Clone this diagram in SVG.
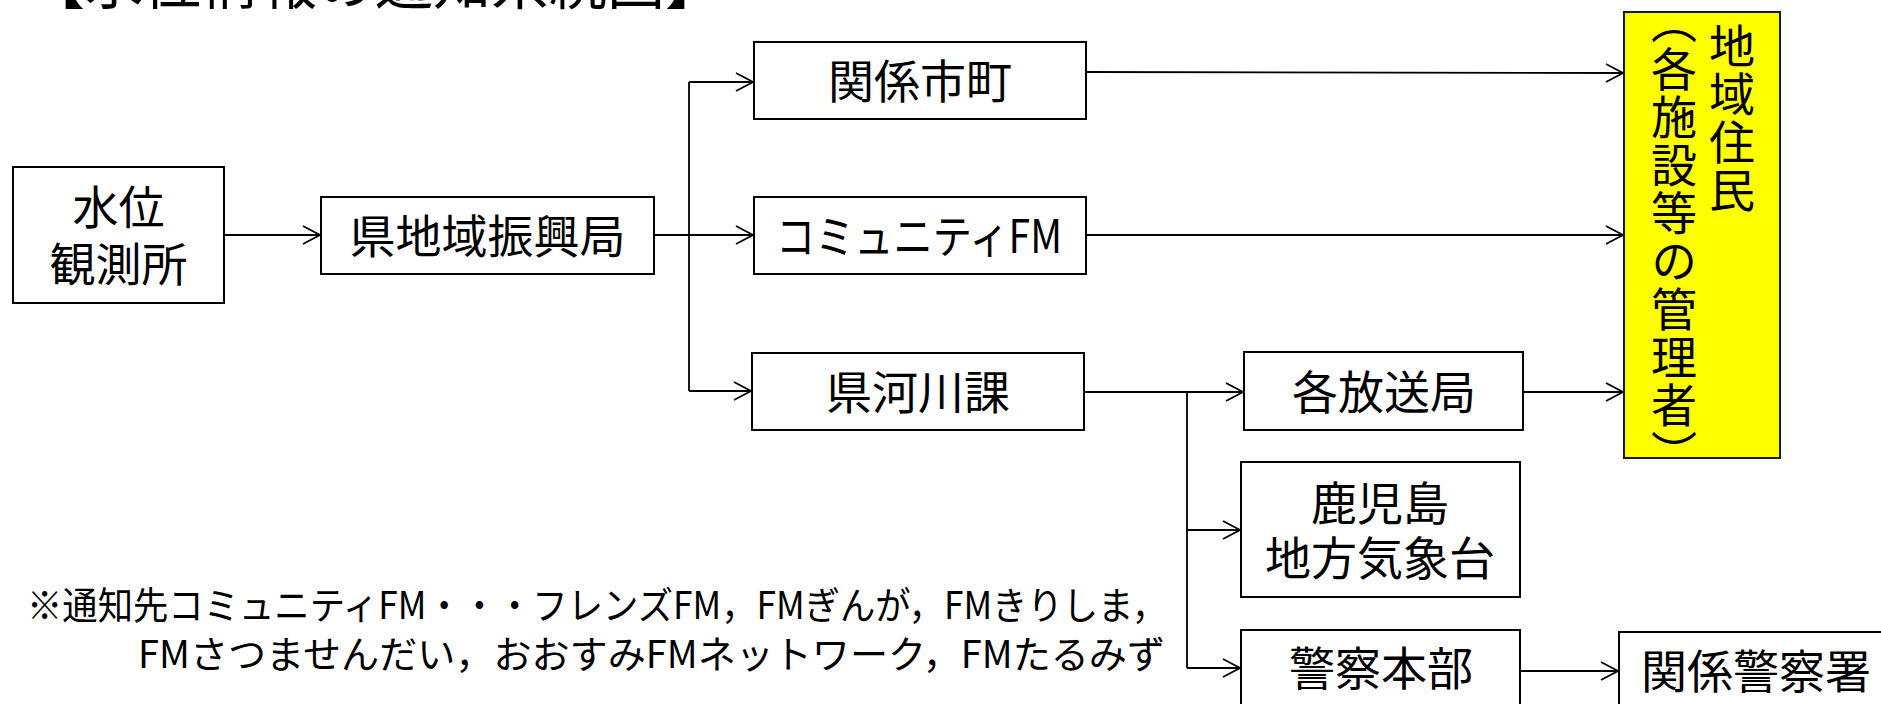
<svg xmlns="http://www.w3.org/2000/svg" width="1881" height="704" viewBox="0 0 1881 704">
<style>
.box{fill:#fff;stroke:#000;stroke-width:2}
.yel{fill:#ffff00;stroke:#1a1a1a;stroke-width:2}
.t{font-family:"Noto Sans CJK JP","Noto Sans CJK SC",sans-serif;font-size:46px;fill:#000;text-anchor:middle}
.note{font-family:"Noto Sans CJK JP","Noto Sans CJK SC",sans-serif;font-size:38px;fill:#000}
.v{font-family:"Noto Sans CJK JP","Noto Sans CJK SC",sans-serif;font-size:46px;fill:#000;writing-mode:vertical-rl;letter-spacing:2px}
.c{fill:none;stroke:#000;stroke-width:1.8}
.ca{fill:none;stroke:#000;stroke-width:1.8;marker-end:url(#ah)}
</style>
<defs>
<marker id="ah" markerUnits="userSpaceOnUse" markerWidth="24" markerHeight="24" viewBox="-20 -12 24 24" refX="0" refY="0" orient="auto" overflow="visible">
<path d="M-17,-9 L0,0 L-17,9" fill="none" stroke="#000" stroke-width="1.8"/>
</marker>
</defs>

<g id="title">
<text class="note" x="27" y="4" style="font-size:58px">【水位情報の通知系統図】</text>
</g>

<g id="connectors">
<line class="ca" x1="224" y1="235" x2="320" y2="235"/>
<line class="c" x1="654" y1="235" x2="689" y2="235"/>
<polyline class="c" points="689,82 689,391"/>
<line class="ca" x1="689" y1="82" x2="753" y2="82"/>
<line class="ca" x1="689" y1="235" x2="753" y2="235"/>
<line class="ca" x1="689" y1="391" x2="751" y2="391"/>
<line class="ca" x1="1086" y1="72" x2="1623" y2="73"/>
<line class="ca" x1="1086" y1="235" x2="1623" y2="235"/>
<line class="ca" x1="1084" y1="392" x2="1243" y2="392"/>
<line class="c" x1="1187" y1="392" x2="1187" y2="668"/>
<line class="ca" x1="1187" y1="530" x2="1240" y2="530"/>
<line class="ca" x1="1187" y1="668" x2="1240" y2="668"/>
<line class="ca" x1="1523" y1="392" x2="1623" y2="392"/>
<line class="ca" x1="1520" y1="671" x2="1618" y2="671"/>
</g>

<g id="n-suii">
<rect class="box" x="13" y="167" width="211" height="136"/>
<text class="t"><tspan x="118.5" y="224">水位</tspan><tspan x="118.5" y="281">観測所</tspan></text>
</g>

<g id="n-shinkou">
<rect class="box" x="321" y="197" width="333" height="77"/>
<text class="t" x="487.5" y="253">県地域振興局</text>
</g>

<g id="n-shicho">
<rect class="box" x="754" y="42" width="332" height="77"/>
<text class="t" x="920" y="98">関係市町</text>
</g>

<g id="n-fm">
<rect class="box" x="754" y="197" width="332" height="77"/>
<text class="t" x="919" y="253" textLength="286" lengthAdjust="spacingAndGlyphs">コミュニティFM</text>
</g>

<g id="n-kasen">
<rect class="box" x="752" y="353" width="332" height="77"/>
<text class="t" x="918" y="409">県河川課</text>
</g>

<g id="n-housou">
<rect class="box" x="1244" y="352" width="279" height="78"/>
<text class="t" x="1384" y="409">各放送局</text>
</g>

<g id="n-kishou">
<rect class="box" x="1241" y="462" width="279" height="135"/>
<text class="t"><tspan x="1380" y="520">鹿児島</tspan><tspan x="1380" y="575">地方気象台</tspan></text>
</g>

<g id="n-keisatsu">
<rect class="box" x="1241" y="630" width="279" height="100"/>
<text class="t" x="1381" y="685">警察本部</text>
</g>

<g id="n-keisatsusho">
<rect class="box" x="1619" y="632" width="300" height="100"/>
<text class="t" x="1641" y="688" style="text-anchor:start">関係警察署</text>
</g>

<g id="n-jumin">
<rect class="yel" x="1624" y="12" width="156" height="446"/>
<text class="v" x="1732" y="23">地域住民</text>
<text class="v" x="1674" y="-2">（各施設等の管理者）</text>
</g>

<g id="note">
<text class="note"><tspan x="27" y="619" textLength="1140" lengthAdjust="spacingAndGlyphs">※通知先コミュニティFM・・・フレンズFM，FMぎんが，FMきりしま，</tspan><tspan x="138" y="668" textLength="1027" lengthAdjust="spacingAndGlyphs">FMさつませんだい，おおすみFMネットワーク，FMたるみず</tspan></text>
</g>
</svg>
